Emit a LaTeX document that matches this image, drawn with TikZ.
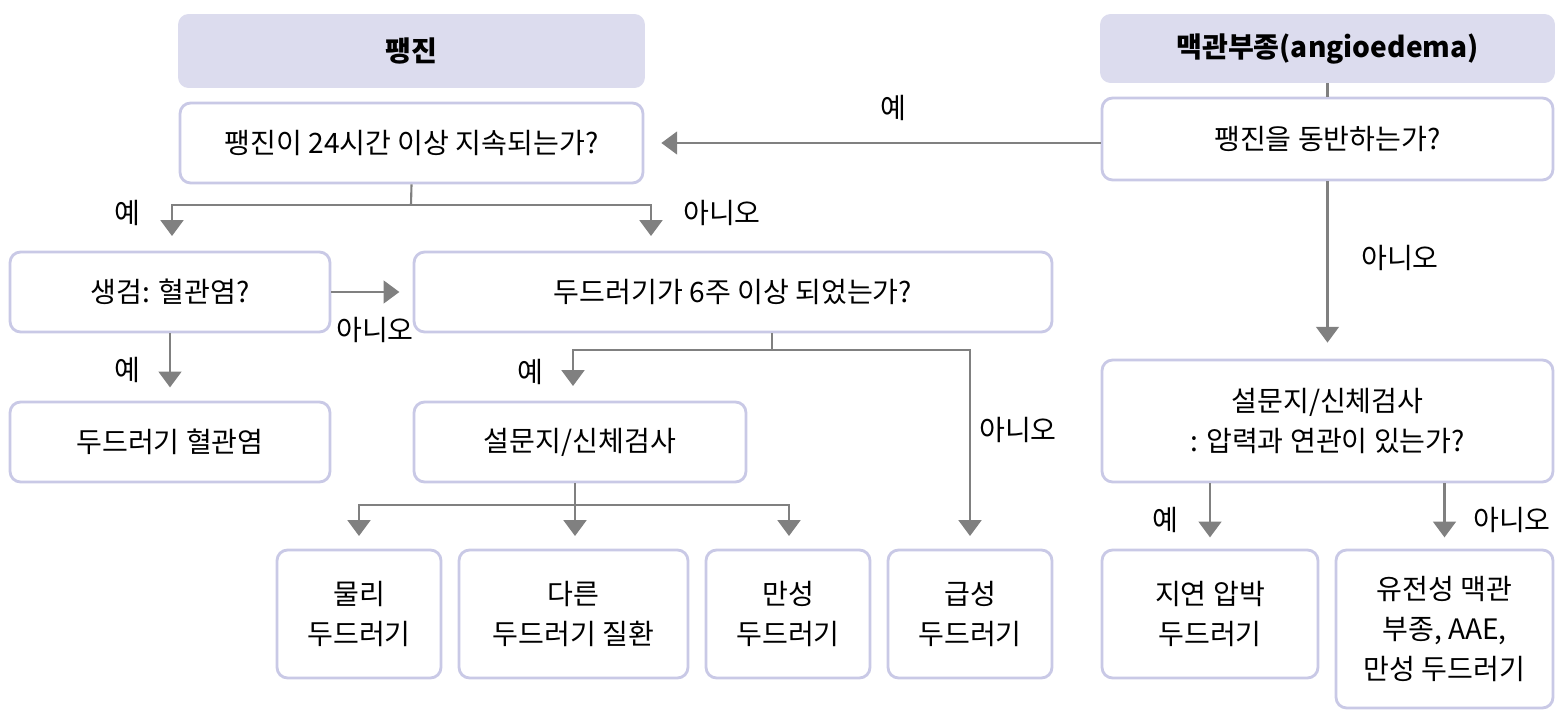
\documentclass[tikz,border=0pt]{standalone}
\usepackage{fontspec}
\setmainfont{Noto Sans CJK KR}
\usetikzlibrary{arrows.meta,positioning}
\definecolor{headfill}{HTML}{DCDCEE}
\definecolor{boxline}{HTML}{C9C9E6}
\definecolor{arrowgray}{HTML}{808080}
\tikzset{
  box/.style={draw=boxline,line width=1.6pt,rounded corners=6pt,fill=white,align=center,inner sep=0pt,font=\fontsize{16}{23}\selectfont},
  head/.style={fill=headfill,rounded corners=6pt,align=center,inner sep=0pt,font=\fontsize{16}{20}\selectfont\bfseries},
  conn/.style={draw=arrowgray,line width=1.2pt},
  arr/.style={conn,-{Triangle[length=9pt,width=13pt]}},
  lab/.style={font=\fontsize{16}{18}\selectfont,inner sep=0pt}
}
\begin{document}
\begin{tikzpicture}[x=0.02cm,y=-0.02cm]
\useasboundingbox (0,0) rectangle (1560,716);
% headers
\node[head,minimum width=9.34cm,minimum height=1.48cm] (hwheal) at (411.5,51) {팽진};
\node[head,minimum width=9.1cm,minimum height=1.38cm] (hangio) at (1327.5,48.5) {맥관부종(angioedema)};
% questions
\node[box,minimum width=9.26cm,minimum height=1.6cm] (q24h) at (411.5,143) {팽진이 24시간 이상 지속되는가?};
\node[box,minimum width=9.02cm,minimum height=1.64cm] (qwheal) at (1327.5,139) {팽진을 동반하는가?};
\node[box,minimum width=6.4cm,minimum height=1.6cm] (biopsy) at (170,292) {생검: 혈관염?};
\node[box,minimum width=12.76cm,minimum height=1.6cm] (q6w) at (733,292) {두드러기가 6주 이상 되었는가?};
\node[box,minimum width=6.4cm,minimum height=1.6cm] (vasc) at (170,442) {두드러기 혈관염};
\node[box,minimum width=6.64cm,minimum height=1.6cm] (exam) at (580,442) {설문지/신체검사};
\node[box,minimum width=9.02cm,minimum height=2.44cm] (exam2) at (1327.5,421) {설문지/신체검사\\: 압력과 연관이 있는가?};
% results
\node[box,minimum width=3.28cm,minimum height=2.56cm] (phys) at (359,614) {물리\\두드러기};
\node[box,minimum width=4.58cm,minimum height=2.56cm] (other) at (573.5,614) {다른\\두드러기 질환};
\node[box,minimum width=3.28cm,minimum height=2.56cm] (chronic) at (788,614) {만성\\두드러기};
\node[box,minimum width=3.28cm,minimum height=2.56cm] (acute) at (970,614) {급성\\두드러기};
\node[box,minimum width=4.32cm,minimum height=2.56cm] (delay) at (1210,614) {지연 압박\\두드러기};
\node[box,minimum width=4.34cm,minimum height=3.16cm] (hered) at (1444.5,629) {유전성 맥관\\부종, AAE,\\만성 두드러기};
% connectors
\draw[conn] (hangio.south) -- (qwheal.north);
\draw[arr] (qwheal.west |- 0,143) -- ([xshift=0.34cm]q24h.east);
\node[lab] at (893,108) {예};
\draw[arr] (qwheal.south) -- ([yshift=0.32cm]exam2.north);
\node[lab] at (1400,258) {아니오};
\coordinate (j1) at (411,205);
\draw[conn] (q24h.south) -- (j1);
\draw[arr] (j1) -| (172,236);
\draw[arr] (j1) -| (651,236);
\node[lab] at (127,213) {예};
\node[lab] at (722,213) {아니오};
\draw[arr] (biopsy.east) -- ++(68,0);
\node[lab] at (375,330) {아니오};
\draw[arr] (biopsy.south) -- ++(0,54);
\node[lab] at (127,370) {예};
\coordinate (j2) at (772,350);
\draw[conn] (q6w.south -| j2) -- (j2);
\draw[arr] (j2) -| (573,386);
\draw[arr] (j2) -| (970,536);
\node[lab] at (530,372) {예};
\node[lab] at (1018,430) {아니오};
\coordinate (j3) at (575,505);
\draw[conn] (exam.south -| j3) -- (j3);
\draw[arr] (j3) -| (359,536);
\draw[arr] (j3) -- (575,536);
\draw[arr] (j3) -| (789,536);
\draw[arr] (exam2.south -| delay) -- ++(0,54);
\draw[arr] (exam2.south -| hered) -- ++(0,54);
\node[lab] at (1165,520) {예};
\node[lab] at (1512,520) {아니오};
\end{tikzpicture}
\end{document}
